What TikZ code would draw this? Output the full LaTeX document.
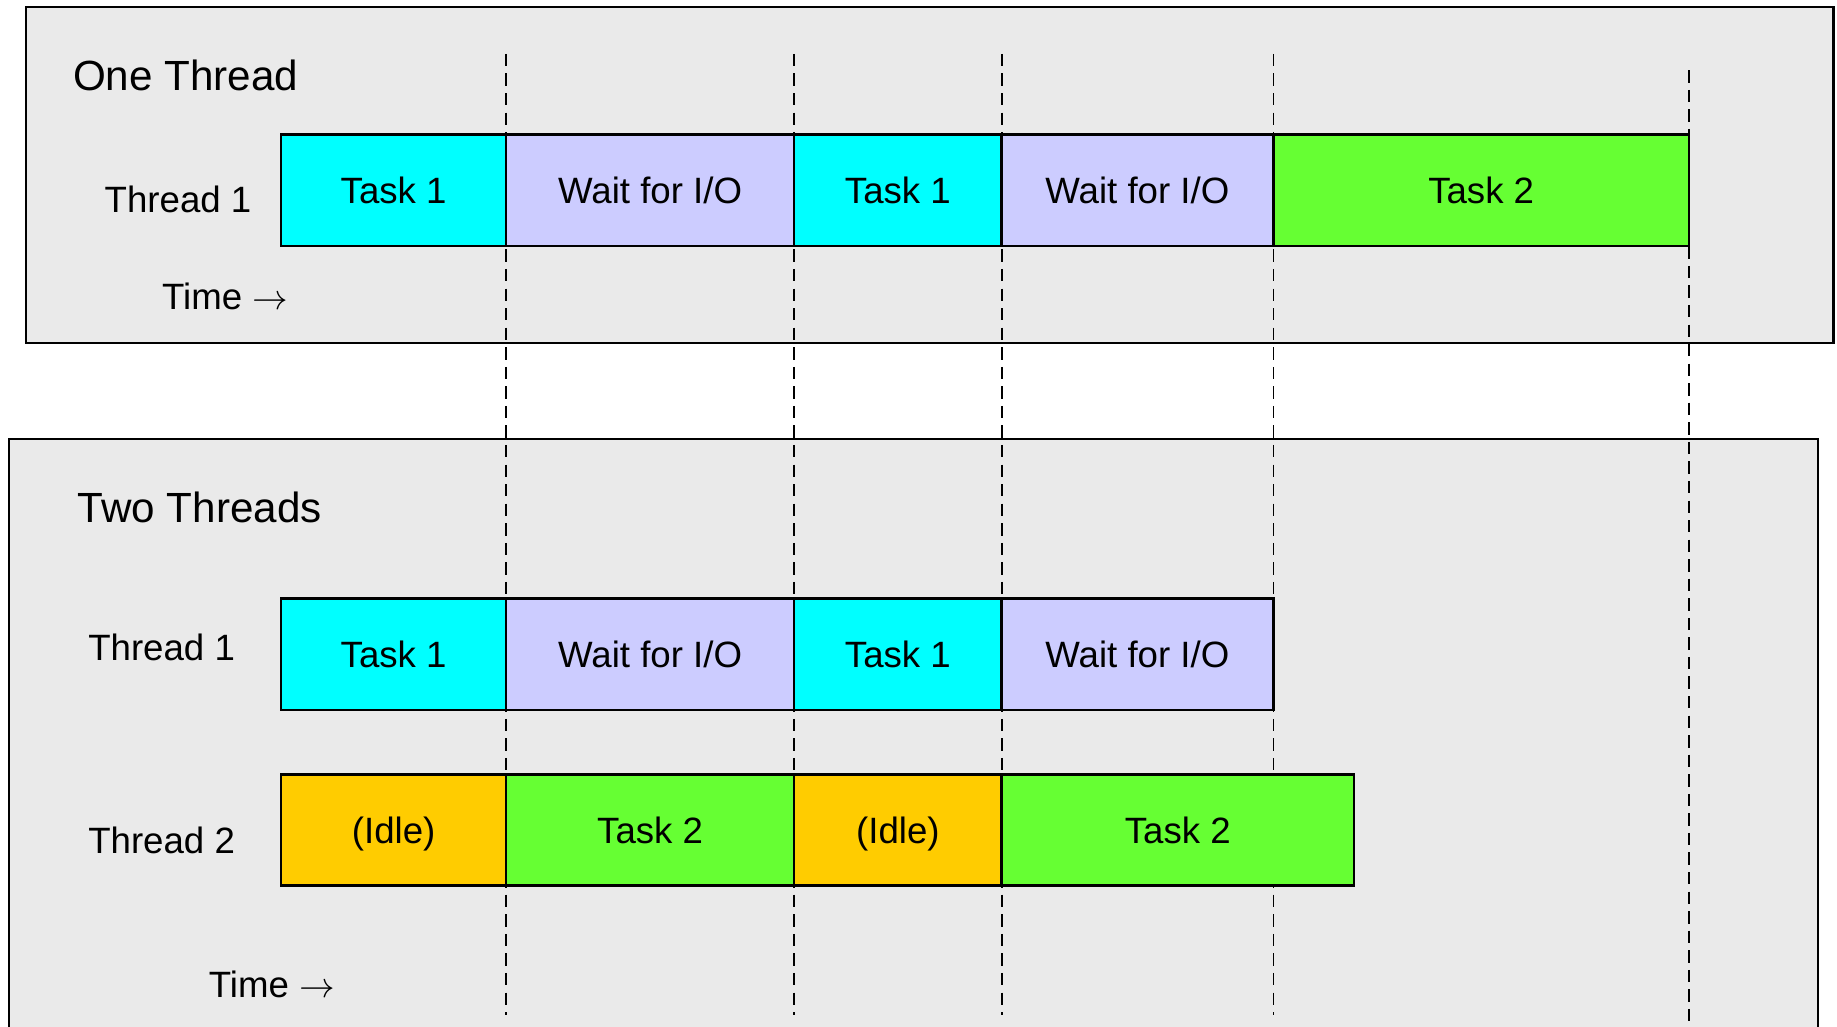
\documentclass[tikz,border=0pt]{standalone}
\usepackage{fontspec}
\setmainfont{Liberation Sans}
\usetikzlibrary{positioning}

\definecolor{panelgray}{HTML}{EAEAEA}
\definecolor{taskone}{HTML}{00FFFF}
\definecolor{iowait}{HTML}{CCCCFF}
\definecolor{tasktwo}{HTML}{66FF33}
\definecolor{idlecol}{HTML}{FFCC00}

\tikzset{
  panel/.style={draw=black, line width=1pt, fill=panelgray},
  guide/.style={dash pattern=on 6pt off 3.5pt, line width=0.9pt},
  slot/.style={draw=black, line width=1.2pt, minimum height=1.9cm,
    inner sep=0pt, outer sep=0pt, text height=12.8pt, text depth=0pt,
    font=\fontsize{17.8}{21}\selectfont},
  rowlabel/.style={font=\fontsize{17.8}{21}\selectfont, inner sep=0pt, anchor=west},
  paneltitle/.style={font=\fontsize{20.5}{24}\selectfont, inner sep=0pt, anchor=west},
}

\begin{document}
\begin{tikzpicture}[x=0.02cm, y=-0.02cm]
\useasboundingbox (0,0) rectangle (1568,876);
\clip (0,0) rectangle (1568,876);
% the two panels
\draw[panel] (22,6) rectangle (1565,293);
\draw[panel] (8,375) rectangle (1552,900);
% time marks
\foreach \t in {432,678,855,1087}
  \draw[guide] (\t,46) -- (\t,866);
\draw[guide] (1442,60) -- (1442,880);

% one thread
\node[paneltitle] (onetitle) at (62,64) {One Thread};
\node[rowlabel] (onelab) at (89,170) {Thread 1};
\node[rowlabel] (onetime) at (138,253) {Time $\rightarrow$};
\node[slot, fill=taskone, minimum width=3.84cm, anchor=north west] (a1) at (240,115) {Task 1};
\node[slot, fill=iowait, minimum width=4.92cm, right=0pt of a1] (a2) {Wait for I/O};
\node[slot, fill=taskone, minimum width=3.54cm, right=0pt of a2] (a3) {Task 1};
\node[slot, fill=iowait, minimum width=4.64cm, right=0pt of a3] (a4) {Wait for I/O};
\node[slot, fill=tasktwo, minimum width=7.10cm, right=0pt of a4] (a5) {Task 2};

% two threads
\node[paneltitle] (twotitle) at (66,433) {Two Threads};
\node[rowlabel] (twolabA) at (75,553) {Thread 1};
\node[rowlabel] (twolabB) at (75,717) {Thread 2};
\node[rowlabel] (twotime) at (178,840) {Time $\rightarrow$};
\node[slot, fill=taskone, minimum width=3.84cm, anchor=north west] (b1) at (240,511) {Task 1};
\node[slot, fill=iowait, minimum width=4.92cm, right=0pt of b1] (b2) {Wait for I/O};
\node[slot, fill=taskone, minimum width=3.54cm, right=0pt of b2] (b3) {Task 1};
\node[slot, fill=iowait, minimum width=4.64cm, right=0pt of b3] (b4) {Wait for I/O};

\node[slot, fill=idlecol, minimum width=3.84cm, anchor=north west] (c1) at (240,661) {(Idle)};
\node[slot, fill=tasktwo, minimum width=4.92cm, right=0pt of c1] (c2) {Task 2};
\node[slot, fill=idlecol, minimum width=3.54cm, right=0pt of c2] (c3) {(Idle)};
\node[slot, fill=tasktwo, minimum width=6.02cm, right=0pt of c3] (c4) {Task 2};
\end{tikzpicture}
\end{document}
